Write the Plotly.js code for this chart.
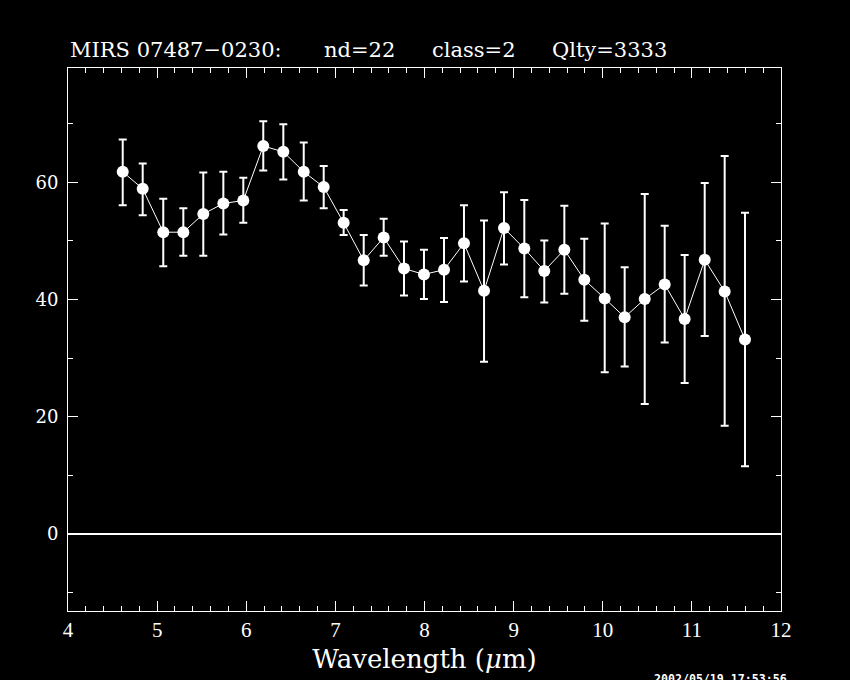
<!DOCTYPE html>
<html>
<head>
<meta charset="utf-8">
<script src="https://cdn.plot.ly/plotly-3.0.1.min.js"></script>
<style>
html,body{margin:0;padding:0;background:#000;}
#chart{width:850px;height:680px;}
</style>
</head>
<body>
<div id="chart"></div>
<script>
// Wavelength (micron)
const wavelength = [4.614, 4.838, 5.069, 5.294, 5.518, 5.743, 5.967, 6.191, 6.416, 6.645, 6.869, 7.093,
  7.318, 7.542, 7.770, 7.994, 8.219, 8.443, 8.668, 8.892, 9.120, 9.344, 9.569, 9.793,
  10.022, 10.246, 10.471, 10.695, 10.919, 11.144, 11.368, 11.596];
// Flux values
const flux = [61.8, 58.9, 51.5, 51.5, 54.6, 56.4, 56.9, 66.2, 65.2, 61.8, 59.2, 53.1,
  46.7, 50.6, 45.3, 44.3, 45.1, 49.6, 41.5, 52.2, 48.7, 44.9, 48.5, 43.4,
  40.2, 37.0, 40.1, 42.6, 36.7, 46.8, 41.4, 33.2];
// Upper and lower ends of the error bars
const fluxUpper = [67.3, 63.2, 57.2, 55.6, 61.7, 61.8, 60.8, 70.4, 69.9, 66.8, 62.8, 55.3,
  51.0, 53.8, 49.9, 48.5, 50.5, 56.1, 53.5, 58.3, 57.0, 50.1, 56.0, 50.4,
  53.0, 45.5, 58.0, 52.6, 47.6, 59.9, 64.5, 54.8];
const fluxLower = [56.1, 54.4, 45.7, 47.5, 47.5, 51.1, 53.1, 62.0, 60.5, 56.9, 55.6, 51.0,
  42.4, 47.5, 40.7, 40.1, 39.6, 43.1, 29.4, 46.0, 40.4, 39.5, 41.0, 36.4,
  27.6, 28.6, 22.2, 32.7, 25.8, 33.8, 18.5, 11.6];

const xTickVals = [4, 5, 6, 7, 8, 9, 10, 11, 12];
const yTickVals = [0, 20, 40, 60];

// Title pieces (as in the reference header line)
const titleParts = ["MIRS 07487\u22120230:", "nd=22", "class=2", "Qlty=3333"];
const titlePartPx = [68, 322, 430, 550];
const stampText = "2002/05/19 17:53:56";

const errPlus = flux.map((v, i) => fluxUpper[i] - v);
const errMinus = flux.map((v, i) => v - fluxLower[i]);

const trace = {
  type: 'scatter',
  mode: 'lines+markers',
  x: wavelength,
  y: flux,
  line: {color: '#ffffff', width: 1},
  marker: {color: '#ffffff', size: 12, symbol: 'circle'},
  error_y: {
    type: 'data',
    symmetric: false,
    array: errPlus,
    arrayminus: errMinus,
    color: '#ffffff',
    thickness: 2,
    width: 4
  },
  hoverinfo: 'skip'
};

const axisCommon = {
  showgrid: false,
  showline: true,
  linecolor: '#ffffff',
  linewidth: 1,
  mirror: 'ticks',
  ticks: 'inside',
  tickcolor: '#ffffff',
  tickwidth: 1,
  ticklen: 10
};

const PL = 68, PR = 781, PT = 68, PB = 611;
const pxToPaperX = px => (px - PL) / (PR - PL);
const pxToPaperY = py => (PB - py) / (PB - PT);

const annotations = titleParts.map((t, i) => ({
  text: t,
  xref: 'paper', yref: 'paper',
  x: pxToPaperX(titlePartPx[i]),
  y: pxToPaperY(50),
  xanchor: 'left', yanchor: 'middle',
  showarrow: false,
  font: {family: 'DejaVu Serif, serif', size: 21, color: '#ffffff'}
}));
annotations.push({
  text: stampText,
  xref: 'paper', yref: 'paper',
  x: pxToPaperX(652),
  y: pxToPaperY(670),
  xanchor: 'left', yanchor: 'top',
  showarrow: false,
  font: {family: 'DejaVu Sans Mono, monospace', size: 11.6, color: '#ffffff', weight: 'bold'}
});

const layout = {
  width: 850,
  height: 680,
  paper_bgcolor: '#000000',
  plot_bgcolor: '#000000',
  margin: {l: 68, r: 69, t: 68, b: 69},
  showlegend: false,
  xaxis: Object.assign({}, axisCommon, {
    range: [4, 12],
    tickmode: 'array',
    tickvals: xTickVals,
    ticktext: xTickVals.map(String),
    tickfont: {family: 'Liberation Serif, serif', size: 21, color: '#ffffff'},
    minor: {dtick: 0.2, tick0: 4, ticks: 'inside', ticklen: 5, tickcolor: '#ffffff', tickwidth: 1, showgrid: false},
    zeroline: false,
    title: {
      text: 'Wavelength (<i>\u03bc</i>m)',
      font: {family: 'DejaVu Serif, serif', size: 26, color: '#ffffff'},
      standoff: 8
    }
  }),
  yaxis: Object.assign({}, axisCommon, {
    range: [-13.1, 79.5],
    tickmode: 'array',
    tickvals: yTickVals,
    ticktext: yTickVals.map(String),
    tickfont: {family: 'DejaVu Serif, serif', size: 18, color: '#ffffff'},
    ticklabelstandoff: 5,
    minor: {dtick: 10, tick0: 0, ticks: 'inside', ticklen: 5, tickcolor: '#ffffff', tickwidth: 1, showgrid: false},
    zeroline: true,
    zerolinecolor: '#ffffff',
    zerolinewidth: 2
  }),
  annotations: annotations
};

Plotly.newPlot('chart', [trace], layout, {staticPlot: true, displayModeBar: false});
</script>
</body>
</html>
